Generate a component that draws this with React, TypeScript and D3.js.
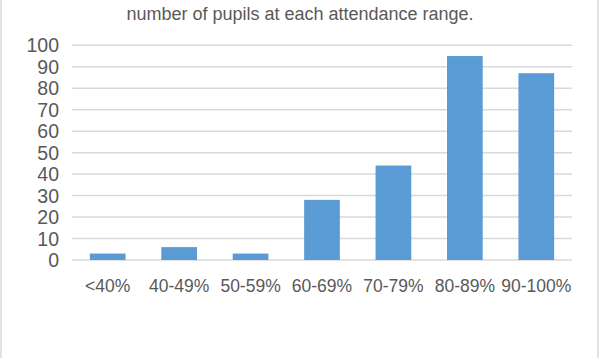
import React from "react";
import * as d3 from "d3";

const categories = ["<40%", "40-49%", "50-59%", "60-69%", "70-79%", "80-89%", "90-100%"];
const pupils = [3, 6, 3, 28, 44, 95, 87];
const yTicks = [0, 10, 20, 30, 40, 50, 60, 70, 80, 90, 100];
const title = "number of pupils at each attendance range.";

export default function App() {
  const W = 600, H = 358;
  const left = 72, right = 572, top = 45.3, bottom = 260;
  const x = d3.scaleBand<string>().domain(categories).range([left, right]).paddingInner(0.5).paddingOuter(0.25);
  const y = d3.scaleLinear().domain([0, 100]).range([bottom, top]);
  const font = "'Liberation Sans', Arial, sans-serif";
  const textColor = "#595959";
  return (
    <svg width={W} height={H} style={{ position: "absolute", left: 0, top: 0, background: "#fff" }} fontFamily={font}>
      <rect x={0} y={0} width={W} height={H} fill="#fff" />
      <line x1={1} x2={1} y1={0} y2={H} stroke="#D9D9D9" strokeWidth={1.5} />
      <line x1={598} x2={598} y1={0} y2={H} stroke="#D9D9D9" strokeWidth={1.5} />
      <text x={300} y={20} textAnchor="middle" fontSize={18} fill={textColor}>{title}</text>
      {yTicks.map((t) => (
        <g key={t}>
          <line x1={left} x2={right} y1={y(t)} y2={y(t)} stroke="#D9D9D9" strokeWidth={1.5} />
          <text x={59} y={y(t)} dy="0.36em" textAnchor="end" fontSize={19.5} fill={textColor}>{t}</text>
        </g>
      ))}
      {categories.map((c, i) => (
        <rect key={c} x={x(c)} y={y(pupils[i])} width={x.bandwidth()} height={bottom - y(pupils[i])} fill="#5B9BD5" />
      ))}
      {categories.map((c) => (
        <text key={c} x={(x(c) as number) + x.bandwidth() / 2} y={292} textAnchor="middle" fontSize={17.5} fill={textColor}>{c}</text>
      ))}
    </svg>
  );
}
